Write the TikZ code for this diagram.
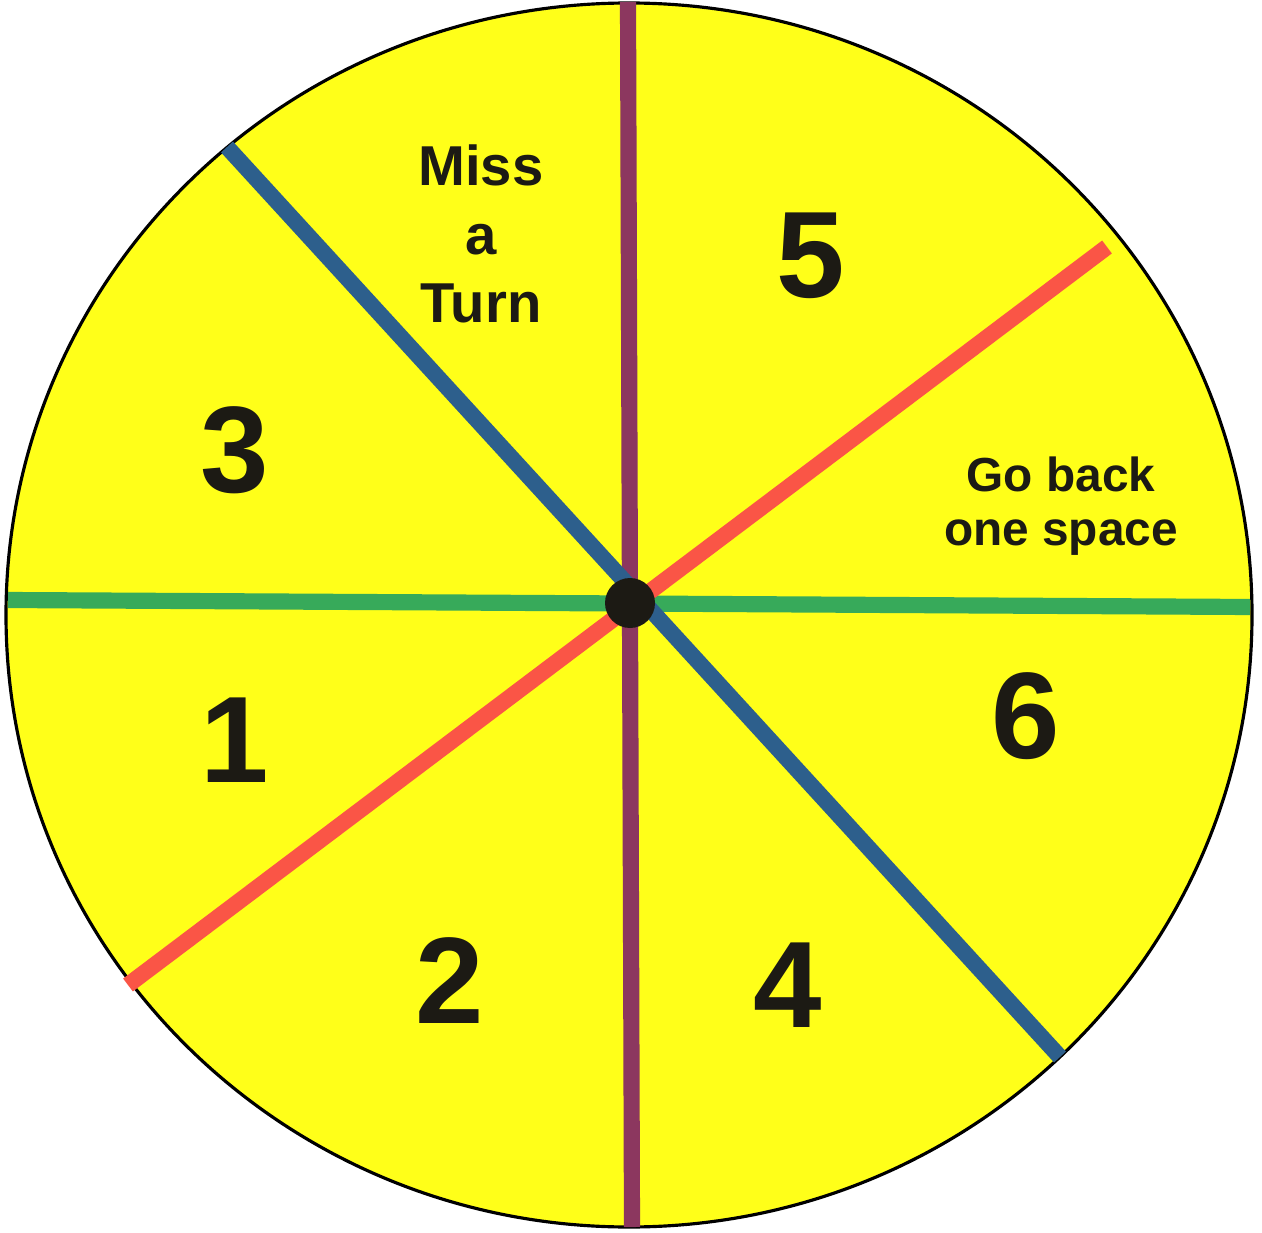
\documentclass[tikz,border=0pt]{standalone}
\usepackage{fontspec}
\setmainfont{Liberation Sans}
\usetikzlibrary{positioning}

\definecolor{spinyellow}{RGB}{255,255,25}
\definecolor{spinpurple}{RGB}{140,55,95}
\definecolor{spinblue}{RGB}{45,95,140}
\definecolor{spingreen}{RGB}{55,170,90}
\definecolor{spinred}{RGB}{250,85,70}
\definecolor{spinink}{RGB}{28,26,20}

\begin{document}
\begin{tikzpicture}[
    spoke/.style={line width=4.6pt},
    num/.style={font=\fontsize{35}{40}\selectfont\bfseries, text=spinink, inner sep=0pt},
    label/.style={align=center, text=spinink, inner sep=0pt}
]
    \useasboundingbox (0,0) rectangle (12.62,12.32);
    \fill[white] (0,0) rectangle (12.62,12.32);

% the wheel
\draw[fill=spinyellow, line width=0.9pt] (6.29,6.17) ellipse [x radius=6.23, y radius=6.12];

% ends of the spokes
\coordinate (PT) at (6.28,12.30);
\coordinate (PB) at (6.32,0.05);
\coordinate (GL) at (0.08,6.32);
\coordinate (GR) at (12.50,6.25);
\coordinate (BT) at (2.27,10.85);
\coordinate (BB) at (10.60,1.75);
\coordinate (RT) at (11.07,9.85);
\coordinate (RB) at (1.28,2.47);

\draw[spoke, spingreen] (GL) -- (GR);
\draw[spoke, spinred] (RB) -- (RT);
\draw[spoke, spinpurple] (PT) -- (PB);
\draw[spoke, spinblue] (BT) -- (BB);

\node[circle, fill=spinink, minimum size=0.5cm, inner sep=0pt] (hub) at (6.30,6.29) {};

% sectors
\node[num] (n5) at (8.11,9.76) {5};
\node[num] (n3) at (2.35,7.82) {3};
\node[num] (n1) at (2.35,4.92) {1};
\node[num] (n6) at (10.26,5.16) {6};
\node[num] (n2) at (4.50,2.51) {2};
\node[num] (n4) at (7.88,2.47) {4};

\node[label, font=\fontsize{16}{19.6}\selectfont\bfseries] (miss) at (4.81,9.98) {Miss\\a\\Turn};
\node[label, font=\fontsize{13.6}{15.2}\selectfont\bfseries] (back) at (10.61,7.26) {Go back\\one space};
\end{tikzpicture}
\end{document}
